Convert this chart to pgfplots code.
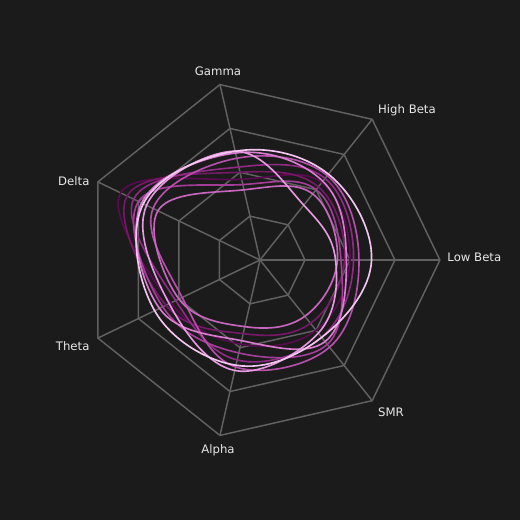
\documentclass[border=0pt]{standalone}
\usepackage{pgfplots}
\pgfplotsset{compat=1.18}
\usepgfplotslibrary{polar}
\usepackage{fontspec}
\setmainfont{DejaVu Sans}
\definecolor{bg}{HTML}{1B1B1B}
\definecolor{gridc}{HTML}{616161}
\definecolor{labc}{HTML}{E8E8E8}
\definecolor{c1}{HTML}{5A0A50}
\definecolor{c2}{HTML}{761868}
\definecolor{c3}{HTML}{8E2A84}
\definecolor{c4}{HTML}{A33D98}
\definecolor{c5}{HTML}{B54FAB}
\definecolor{c6}{HTML}{C865BE}
\definecolor{c7}{HTML}{D87DD0}
\definecolor{c8}{HTML}{E69AE0}
\definecolor{c9}{HTML}{F5C6F2}
\begin{document}
\begin{tikzpicture}
\fill[bg] (0,0) rectangle (10cm,10cm);
\begin{polaraxis}[
  at={(5cm,5cm)}, anchor=center,
  scale only axis, width=6.92cm, height=6.92cm,
  ymin=0, ymax=1,
  xtick=\empty, ytick=\empty,
  grid=none,
  axis line style={draw=none},
  clip=false,
]
% grid heptagons
\pgfplotsinvokeforeach{0.25,0.5,0.75,1}{
\addplot[gridc, line width=0.8pt, sharp plot] coordinates {(0,#1) (51.4286,#1) (102.857,#1) (154.286,#1) (205.714,#1) (257.143,#1) (308.571,#1) (360,#1)};
}
% spokes
\pgfplotsinvokeforeach{0,51.4286,102.857,154.286,205.714,257.143,308.571}{
\addplot[gridc, line width=0.8pt, sharp plot] coordinates {(#1,0) (#1,1)};
}
% series: Low Beta, High Beta, Gamma, Delta, Theta, Alpha, SMR
\addplot[c1, line width=0.9pt, smooth cycle, tension=0.65] coordinates {(0,0.50) (51.4286,0.55) (102.857,0.46) (154.286,0.86) (205.714,0.55) (257.143,0.48) (308.571,0.50)};
\addplot[c2, line width=0.9pt, smooth cycle, tension=0.65] coordinates {(0,0.47) (51.4286,0.52) (102.857,0.50) (154.286,0.82) (205.714,0.58) (257.143,0.42) (308.571,0.45)};
\addplot[c3, line width=0.9pt, smooth cycle, tension=0.65] coordinates {(0,0.52) (51.4286,0.58) (102.857,0.53) (154.286,0.78) (205.714,0.52) (257.143,0.57) (308.571,0.55)};
\addplot[c4, line width=0.9pt, smooth cycle, tension=0.65] coordinates {(0,0.45) (51.4286,0.50) (102.857,0.43) (154.286,0.75) (205.714,0.60) (257.143,0.53) (308.571,0.60)};
\addplot[c5, line width=0.9pt, smooth cycle, tension=0.65] coordinates {(0,0.55) (51.4286,0.60) (102.857,0.58) (154.286,0.66) (205.714,0.48) (257.143,0.61) (308.571,0.62)};
\addplot[c6, line width=0.9pt, smooth cycle, tension=0.65] coordinates {(0,0.43) (51.4286,0.47) (102.857,0.40) (154.286,0.63) (205.714,0.50) (257.143,0.38) (308.571,0.40)};
\addplot[c7, line width=0.9pt, smooth cycle, tension=0.65] coordinates {(0,0.48) (51.4286,0.56) (102.857,0.61) (154.286,0.73) (205.714,0.62) (257.143,0.46) (308.571,0.58)};
\addplot[c8, line width=0.9pt, smooth cycle, tension=0.65] coordinates {(0,0.42) (51.4286,0.39) (102.857,0.62) (154.286,0.70) (205.714,0.56) (257.143,0.63) (308.571,0.52)};
\addplot[c9, line width=0.9pt, smooth cycle, tension=0.65] coordinates {(0,0.62) (51.4286,0.61) (102.857,0.62) (154.286,0.72) (205.714,0.65) (257.143,0.60) (308.571,0.55)};
% labels
\begin{scope}[every node/.style={text=labc, font=\fontsize{6.4}{8}\selectfont, inner sep=0pt}]
\node[anchor=west, yshift=1.6pt] at (axis cs:0,1.04) {Low Beta};
\node[anchor=south west, yshift=-2pt] at (axis cs:51.4286,1.05) {High Beta};
\node[anchor=south] at (axis cs:102.857,1.05) {Gamma};
\node[anchor=east, yshift=-1.5pt] at (axis cs:154.286,1.05) {Delta};
\node[anchor=east, yshift=-2.2pt] at (axis cs:205.714,1.05) {Theta};
\node[anchor=north] at (axis cs:257.143,1.05) {Alpha};
\node[anchor=north west] at (axis cs:308.571,1.05) {SMR};
\end{scope}
\end{polaraxis}
\end{tikzpicture}
\end{document}
